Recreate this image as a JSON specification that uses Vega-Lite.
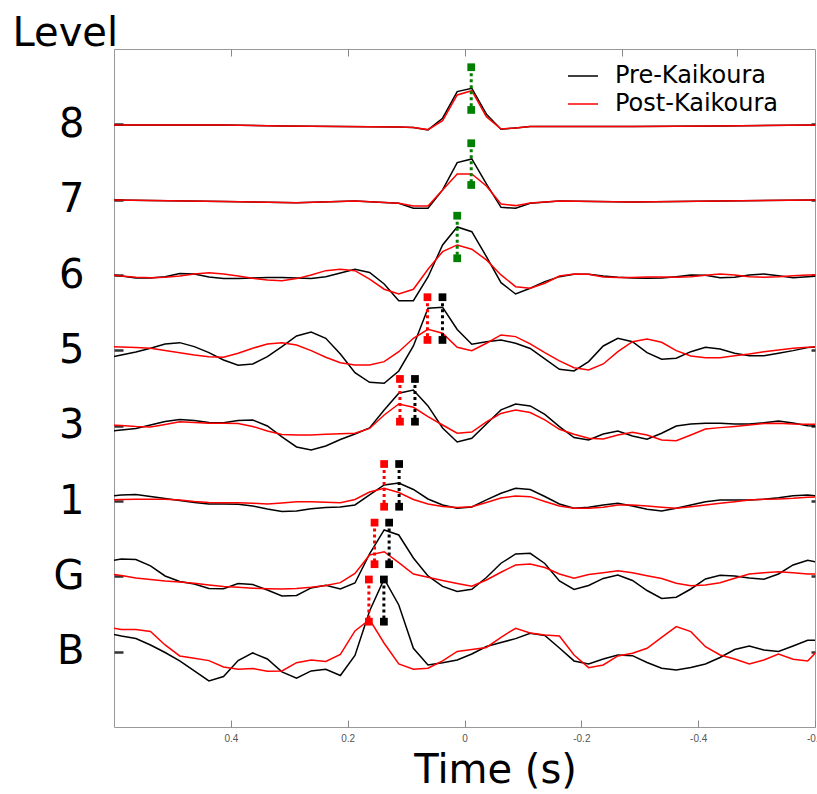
{
"$schema":"https://vega.github.io/schema/vega-lite/v6.json",
"width":701,"height":678,
"autosize":{"type":"none"},
"padding":{"left":114,"top":49,"right":2,"bottom":67},
"background":"white",
"config":{"view":{"stroke":"#999","strokeWidth":1},"font":"DejaVu Sans"},
"datasets":{
"pre":[
{"lv":"8","t":0.6125,"v":6.992},{"lv":"8","t":0.4125,"v":6.992},{"lv":"8","t":0.3125,"v":6.979},{"lv":"8","t":0.2125,"v":6.972},{"lv":"8","t":0.1125,"v":6.965},{"lv":"8","t":0.0875,"v":6.959},{"lv":"8","t":0.0625,"v":6.926},{"lv":"8","t":0.0375,"v":7.081},{"lv":"8","t":0.0125,"v":7.434},{"lv":"8","t":-0.0125,"v":7.479},{"lv":"8","t":-0.0375,"v":7.134},{"lv":"8","t":-0.0625,"v":6.935},{"lv":"8","t":-0.0875,"v":6.952},{"lv":"8","t":-0.1125,"v":6.972},{"lv":"8","t":-0.2875,"v":6.970},{"lv":"8","t":-0.4375,"v":6.979},{"lv":"8","t":-0.6125,"v":6.992},
{"lv":"7","t":0.6125,"v":5.996},{"lv":"7","t":0.4125,"v":5.976},{"lv":"7","t":0.2875,"v":5.960},{"lv":"7","t":0.1875,"v":5.983},{"lv":"7","t":0.1125,"v":5.953},{"lv":"7","t":0.0875,"v":5.886},{"lv":"7","t":0.0625,"v":5.886},{"lv":"7","t":0.0375,"v":6.129},{"lv":"7","t":0.0125,"v":6.492},{"lv":"7","t":-0.0125,"v":6.541},{"lv":"7","t":-0.0375,"v":6.209},{"lv":"7","t":-0.0625,"v":5.899},{"lv":"7","t":-0.0875,"v":5.886},{"lv":"7","t":-0.1125,"v":5.953},{"lv":"7","t":-0.1625,"v":5.983},{"lv":"7","t":-0.2875,"v":5.970},{"lv":"7","t":-0.4375,"v":5.983},{"lv":"7","t":-0.6125,"v":5.996},
{"lv":"6","t":0.6125,"v":5.007},{"lv":"6","t":0.5875,"v":4.987},{"lv":"6","t":0.5625,"v":4.961},{"lv":"6","t":0.5375,"v":4.961},{"lv":"6","t":0.5125,"v":4.978},{"lv":"6","t":0.4875,"v":5.021},{"lv":"6","t":0.4625,"v":5.014},{"lv":"6","t":0.4375,"v":4.974},{"lv":"6","t":0.4125,"v":4.954},{"lv":"6","t":0.3875,"v":4.954},{"lv":"6","t":0.3625,"v":4.961},{"lv":"6","t":0.3375,"v":4.967},{"lv":"6","t":0.3125,"v":4.967},{"lv":"6","t":0.2875,"v":4.961},{"lv":"6","t":0.2625,"v":4.954},{"lv":"6","t":0.2375,"v":4.978},{"lv":"6","t":0.2125,"v":5.027},{"lv":"6","t":0.1875,"v":5.076},{"lv":"6","t":0.1625,"v":5.034},{"lv":"6","t":0.1375,"v":4.881},{"lv":"6","t":0.1125,"v":4.659},{"lv":"6","t":0.0875,"v":4.659},{"lv":"6","t":0.0625,"v":4.974},{"lv":"6","t":0.0375,"v":5.399},{"lv":"6","t":0.0125,"v":5.638},{"lv":"6","t":-0.0125,"v":5.575},{"lv":"6","t":-0.0375,"v":5.244},{"lv":"6","t":-0.0625,"v":4.898},{"lv":"6","t":-0.0875,"v":4.748},{"lv":"6","t":-0.1125,"v":4.824},{"lv":"6","t":-0.1375,"v":4.912},{"lv":"6","t":-0.1625,"v":4.978},{"lv":"6","t":-0.1875,"v":5.010},{"lv":"6","t":-0.2125,"v":5.010},{"lv":"6","t":-0.2375,"v":4.987},{"lv":"6","t":-0.2625,"v":4.970},{"lv":"6","t":-0.2875,"v":4.961},{"lv":"6","t":-0.3125,"v":4.957},{"lv":"6","t":-0.3375,"v":4.961},{"lv":"6","t":-0.3625,"v":4.978},{"lv":"6","t":-0.3875,"v":5.001},{"lv":"6","t":-0.4125,"v":4.997},{"lv":"6","t":-0.4375,"v":4.965},{"lv":"6","t":-0.4625,"v":4.970},{"lv":"6","t":-0.4875,"v":5.001},{"lv":"6","t":-0.5125,"v":5.014},{"lv":"6","t":-0.5375,"v":4.991},{"lv":"6","t":-0.5625,"v":4.965},{"lv":"6","t":-0.5875,"v":4.978},{"lv":"6","t":-0.6125,"v":4.991},
{"lv":"5","t":0.6125,"v":3.899},{"lv":"5","t":0.5875,"v":3.939},{"lv":"5","t":0.5625,"v":3.978},{"lv":"5","t":0.5375,"v":4.028},{"lv":"5","t":0.5125,"v":4.085},{"lv":"5","t":0.4875,"v":4.102},{"lv":"5","t":0.4625,"v":4.049},{"lv":"5","t":0.4375,"v":3.969},{"lv":"5","t":0.4125,"v":3.872},{"lv":"5","t":0.3875,"v":3.802},{"lv":"5","t":0.3625,"v":3.819},{"lv":"5","t":0.3375,"v":3.916},{"lv":"5","t":0.3125,"v":4.049},{"lv":"5","t":0.2875,"v":4.191},{"lv":"5","t":0.2625,"v":4.244},{"lv":"5","t":0.2375,"v":4.160},{"lv":"5","t":0.2125,"v":3.952},{"lv":"5","t":0.1875,"v":3.704},{"lv":"5","t":0.1625,"v":3.576},{"lv":"5","t":0.1375,"v":3.563},{"lv":"5","t":0.1125,"v":3.726},{"lv":"5","t":0.0875,"v":4.058},{"lv":"5","t":0.0625,"v":4.559},{"lv":"5","t":0.0375,"v":4.572},{"lv":"5","t":0.0125,"v":4.277},{"lv":"5","t":-0.0125,"v":4.082},{"lv":"5","t":-0.0375,"v":4.115},{"lv":"5","t":-0.0625,"v":4.138},{"lv":"5","t":-0.0875,"v":4.094},{"lv":"5","t":-0.1125,"v":4.025},{"lv":"5","t":-0.1375,"v":3.886},{"lv":"5","t":-0.1625,"v":3.749},{"lv":"5","t":-0.1875,"v":3.726},{"lv":"5","t":-0.2125,"v":3.850},{"lv":"5","t":-0.2375,"v":4.058},{"lv":"5","t":-0.2625,"v":4.160},{"lv":"5","t":-0.2875,"v":4.115},{"lv":"5","t":-0.3125,"v":3.969},{"lv":"5","t":-0.3375,"v":3.882},{"lv":"5","t":-0.3625,"v":3.895},{"lv":"5","t":-0.3875,"v":3.982},{"lv":"5","t":-0.4125,"v":4.041},{"lv":"5","t":-0.4375,"v":4.018},{"lv":"5","t":-0.4625,"v":3.961},{"lv":"5","t":-0.4875,"v":3.929},{"lv":"5","t":-0.5125,"v":3.929},{"lv":"5","t":-0.5375,"v":3.961},{"lv":"5","t":-0.5625,"v":3.996},{"lv":"5","t":-0.5875,"v":4.036},{"lv":"5","t":-0.6125,"v":4.052},
{"lv":"3","t":0.6125,"v":2.923},{"lv":"3","t":0.5875,"v":2.943},{"lv":"3","t":0.5625,"v":2.963},{"lv":"3","t":0.5375,"v":3.009},{"lv":"3","t":0.5125,"v":3.056},{"lv":"3","t":0.4875,"v":3.082},{"lv":"3","t":0.4625,"v":3.069},{"lv":"3","t":0.4375,"v":3.043},{"lv":"3","t":0.4125,"v":3.040},{"lv":"3","t":0.3875,"v":3.069},{"lv":"3","t":0.3625,"v":3.076},{"lv":"3","t":0.3375,"v":2.996},{"lv":"3","t":0.3125,"v":2.850},{"lv":"3","t":0.2875,"v":2.717},{"lv":"3","t":0.2625,"v":2.678},{"lv":"3","t":0.2375,"v":2.731},{"lv":"3","t":0.2125,"v":2.817},{"lv":"3","t":0.1875,"v":2.890},{"lv":"3","t":0.1625,"v":2.970},{"lv":"3","t":0.1375,"v":3.209},{"lv":"3","t":0.1125,"v":3.430},{"lv":"3","t":0.0875,"v":3.474},{"lv":"3","t":0.0625,"v":3.262},{"lv":"3","t":0.0375,"v":2.970},{"lv":"3","t":0.0125,"v":2.784},{"lv":"3","t":-0.0125,"v":2.833},{"lv":"3","t":-0.0375,"v":3.023},{"lv":"3","t":-0.0625,"v":3.209},{"lv":"3","t":-0.0875,"v":3.288},{"lv":"3","t":-0.1125,"v":3.262},{"lv":"3","t":-0.1375,"v":3.149},{"lv":"3","t":-0.1625,"v":2.987},{"lv":"3","t":-0.1875,"v":2.843},{"lv":"3","t":-0.2125,"v":2.810},{"lv":"3","t":-0.2375,"v":2.890},{"lv":"3","t":-0.2625,"v":2.930},{"lv":"3","t":-0.2875,"v":2.863},{"lv":"3","t":-0.3125,"v":2.820},{"lv":"3","t":-0.3375,"v":2.899},{"lv":"3","t":-0.3625,"v":2.996},{"lv":"3","t":-0.3875,"v":3.023},{"lv":"3","t":-0.4125,"v":3.032},{"lv":"3","t":-0.4375,"v":3.032},{"lv":"3","t":-0.4625,"v":3.023},{"lv":"3","t":-0.4875,"v":3.023},{"lv":"3","t":-0.5125,"v":3.040},{"lv":"3","t":-0.5375,"v":3.063},{"lv":"3","t":-0.5625,"v":3.036},{"lv":"3","t":-0.5875,"v":3.000},{"lv":"3","t":-0.6125,"v":2.990},
{"lv":"1","t":0.6125,"v":2.060},{"lv":"1","t":0.5875,"v":2.080},{"lv":"1","t":0.5625,"v":2.087},{"lv":"1","t":0.5375,"v":2.060},{"lv":"1","t":0.5125,"v":2.034},{"lv":"1","t":0.4875,"v":2.007},{"lv":"1","t":0.4625,"v":1.981},{"lv":"1","t":0.4375,"v":1.961},{"lv":"1","t":0.4125,"v":1.961},{"lv":"1","t":0.3875,"v":1.957},{"lv":"1","t":0.3625,"v":1.934},{"lv":"1","t":0.3375,"v":1.894},{"lv":"1","t":0.3125,"v":1.861},{"lv":"1","t":0.2875,"v":1.868},{"lv":"1","t":0.2625,"v":1.898},{"lv":"1","t":0.2375,"v":1.914},{"lv":"1","t":0.2125,"v":1.921},{"lv":"1","t":0.1875,"v":1.947},{"lv":"1","t":0.1625,"v":2.080},{"lv":"1","t":0.1375,"v":2.213},{"lv":"1","t":0.1125,"v":2.239},{"lv":"1","t":0.0875,"v":2.153},{"lv":"1","t":0.0625,"v":2.027},{"lv":"1","t":0.0375,"v":1.947},{"lv":"1","t":0.0125,"v":1.904},{"lv":"1","t":-0.0125,"v":1.921},{"lv":"1","t":-0.0375,"v":2.014},{"lv":"1","t":-0.0625,"v":2.103},{"lv":"1","t":-0.0875,"v":2.169},{"lv":"1","t":-0.1125,"v":2.153},{"lv":"1","t":-0.1375,"v":2.060},{"lv":"1","t":-0.1625,"v":1.961},{"lv":"1","t":-0.1875,"v":1.904},{"lv":"1","t":-0.2125,"v":1.917},{"lv":"1","t":-0.2375,"v":1.947},{"lv":"1","t":-0.2625,"v":1.970},{"lv":"1","t":-0.2875,"v":1.934},{"lv":"1","t":-0.3125,"v":1.890},{"lv":"1","t":-0.3375,"v":1.868},{"lv":"1","t":-0.3625,"v":1.904},{"lv":"1","t":-0.3875,"v":1.947},{"lv":"1","t":-0.4125,"v":1.991},{"lv":"1","t":-0.4375,"v":2.014},{"lv":"1","t":-0.4625,"v":2.014},{"lv":"1","t":-0.4875,"v":2.014},{"lv":"1","t":-0.5125,"v":2.023},{"lv":"1","t":-0.5375,"v":2.044},{"lv":"1","t":-0.5625,"v":2.071},{"lv":"1","t":-0.5875,"v":2.080},{"lv":"1","t":-0.6125,"v":2.060},
{"lv":"G","t":0.6125,"v":1.197},{"lv":"G","t":0.5875,"v":1.231},{"lv":"G","t":0.5625,"v":1.224},{"lv":"G","t":0.5375,"v":1.138},{"lv":"G","t":0.5125,"v":1.005},{"lv":"G","t":0.4875,"v":0.932},{"lv":"G","t":0.4625,"v":0.899},{"lv":"G","t":0.4375,"v":0.839},{"lv":"G","t":0.4125,"v":0.836},{"lv":"G","t":0.3875,"v":0.905},{"lv":"G","t":0.3625,"v":0.892},{"lv":"G","t":0.3375,"v":0.819},{"lv":"G","t":0.3125,"v":0.739},{"lv":"G","t":0.2875,"v":0.746},{"lv":"G","t":0.2625,"v":0.846},{"lv":"G","t":0.2375,"v":0.881},{"lv":"G","t":0.2125,"v":0.832},{"lv":"G","t":0.1875,"v":0.912},{"lv":"G","t":0.1625,"v":1.297},{"lv":"G","t":0.1375,"v":1.616},{"lv":"G","t":0.1125,"v":1.549},{"lv":"G","t":0.0875,"v":1.244},{"lv":"G","t":0.0625,"v":1.005},{"lv":"G","t":0.0375,"v":0.866},{"lv":"G","t":0.0125,"v":0.799},{"lv":"G","t":-0.0125,"v":0.828},{"lv":"G","t":-0.0375,"v":0.985},{"lv":"G","t":-0.0625,"v":1.174},{"lv":"G","t":-0.0875,"v":1.297},{"lv":"G","t":-0.1125,"v":1.306},{"lv":"G","t":-0.1375,"v":1.171},{"lv":"G","t":-0.1625,"v":0.939},{"lv":"G","t":-0.1875,"v":0.826},{"lv":"G","t":-0.2125,"v":0.879},{"lv":"G","t":-0.2375,"v":0.972},{"lv":"G","t":-0.2625,"v":1.018},{"lv":"G","t":-0.2875,"v":0.945},{"lv":"G","t":-0.3125,"v":0.812},{"lv":"G","t":-0.3375,"v":0.706},{"lv":"G","t":-0.3625,"v":0.722},{"lv":"G","t":-0.3875,"v":0.832},{"lv":"G","t":-0.4125,"v":0.965},{"lv":"G","t":-0.4375,"v":1.014},{"lv":"G","t":-0.4625,"v":1.005},{"lv":"G","t":-0.4875,"v":0.978},{"lv":"G","t":-0.5125,"v":0.961},{"lv":"G","t":-0.5375,"v":1.031},{"lv":"G","t":-0.5625,"v":1.151},{"lv":"G","t":-0.5875,"v":1.213},{"lv":"G","t":-0.6125,"v":1.177},
{"lv":"B","t":0.6125,"v":0.248},{"lv":"B","t":0.5875,"v":0.208},{"lv":"B","t":0.5625,"v":0.175},{"lv":"B","t":0.5375,"v":0.089},{"lv":"B","t":0.5125,"v":-0.011},{"lv":"B","t":0.4875,"v":-0.123},{"lv":"B","t":0.4625,"v":-0.256},{"lv":"B","t":0.4375,"v":-0.389},{"lv":"B","t":0.4125,"v":-0.330},{"lv":"B","t":0.3875,"v":-0.117},{"lv":"B","t":0.3625,"v":-0.017},{"lv":"B","t":0.3375,"v":-0.097},{"lv":"B","t":0.3125,"v":-0.269},{"lv":"B","t":0.2875,"v":-0.353},{"lv":"B","t":0.2625,"v":-0.256},{"lv":"B","t":0.2375,"v":-0.234},{"lv":"B","t":0.2125,"v":-0.316},{"lv":"B","t":0.1875,"v":-0.050},{"lv":"B","t":0.1625,"v":0.540},{"lv":"B","t":0.1375,"v":0.965},{"lv":"B","t":0.1125,"v":0.620},{"lv":"B","t":0.0875,"v":0.045},{"lv":"B","t":0.0625,"v":-0.177},{"lv":"B","t":0.0375,"v":-0.146},{"lv":"B","t":0.0125,"v":-0.110},{"lv":"B","t":-0.0125,"v":-0.031},{"lv":"B","t":-0.0375,"v":0.069},{"lv":"B","t":-0.0625,"v":0.122},{"lv":"B","t":-0.0875,"v":0.173},{"lv":"B","t":-0.1125,"v":0.244},{"lv":"B","t":-0.1375,"v":0.215},{"lv":"B","t":-0.1625,"v":0.049},{"lv":"B","t":-0.1875,"v":-0.123},{"lv":"B","t":-0.2125,"v":-0.163},{"lv":"B","t":-0.2375,"v":-0.097},{"lv":"B","t":-0.2625,"v":-0.044},{"lv":"B","t":-0.2875,"v":-0.053},{"lv":"B","t":-0.3125,"v":-0.143},{"lv":"B","t":-0.3375,"v":-0.220},{"lv":"B","t":-0.3625,"v":-0.243},{"lv":"B","t":-0.3875,"v":-0.210},{"lv":"B","t":-0.4125,"v":-0.163},{"lv":"B","t":-0.4375,"v":-0.077},{"lv":"B","t":-0.4625,"v":0.029},{"lv":"B","t":-0.4875,"v":0.076},{"lv":"B","t":-0.5125,"v":0.023},{"lv":"B","t":-0.5375,"v":0.003},{"lv":"B","t":-0.5625,"v":0.076},{"lv":"B","t":-0.5875,"v":0.151},{"lv":"B","t":-0.6125,"v":0.155}
],
"post":[
{"lv":"8","t":0.6125,"v":6.992},{"lv":"8","t":0.4125,"v":6.992},{"lv":"8","t":0.3125,"v":6.979},{"lv":"8","t":0.2125,"v":6.972},{"lv":"8","t":0.1125,"v":6.965},{"lv":"8","t":0.0875,"v":6.959},{"lv":"8","t":0.0625,"v":6.930},{"lv":"8","t":0.0375,"v":7.049},{"lv":"8","t":0.0125,"v":7.390},{"lv":"8","t":-0.0125,"v":7.447},{"lv":"8","t":-0.0375,"v":7.102},{"lv":"8","t":-0.0625,"v":6.938},{"lv":"8","t":-0.0875,"v":6.952},{"lv":"8","t":-0.1125,"v":6.972},{"lv":"8","t":-0.2875,"v":6.970},{"lv":"8","t":-0.4375,"v":6.979},{"lv":"8","t":-0.6125,"v":6.992},
{"lv":"7","t":0.6125,"v":5.996},{"lv":"7","t":0.4125,"v":5.976},{"lv":"7","t":0.2875,"v":5.960},{"lv":"7","t":0.1875,"v":5.983},{"lv":"7","t":0.1125,"v":5.953},{"lv":"7","t":0.0875,"v":5.917},{"lv":"7","t":0.0625,"v":5.917},{"lv":"7","t":0.0375,"v":6.129},{"lv":"7","t":0.0125,"v":6.341},{"lv":"7","t":-0.0125,"v":6.341},{"lv":"7","t":-0.0375,"v":6.182},{"lv":"7","t":-0.0625,"v":5.943},{"lv":"7","t":-0.0875,"v":5.921},{"lv":"7","t":-0.1125,"v":5.957},{"lv":"7","t":-0.1625,"v":5.983},{"lv":"7","t":-0.2875,"v":5.970},{"lv":"7","t":-0.4375,"v":5.983},{"lv":"7","t":-0.6125,"v":5.996},
{"lv":"6","t":0.6125,"v":5.007},{"lv":"6","t":0.5875,"v":4.987},{"lv":"6","t":0.5625,"v":4.970},{"lv":"6","t":0.5375,"v":4.965},{"lv":"6","t":0.5125,"v":4.970},{"lv":"6","t":0.4875,"v":4.987},{"lv":"6","t":0.4625,"v":5.014},{"lv":"6","t":0.4375,"v":5.031},{"lv":"6","t":0.4125,"v":5.014},{"lv":"6","t":0.3875,"v":4.987},{"lv":"6","t":0.3625,"v":4.957},{"lv":"6","t":0.3375,"v":4.934},{"lv":"6","t":0.3125,"v":4.925},{"lv":"6","t":0.2875,"v":4.952},{"lv":"6","t":0.2625,"v":5.001},{"lv":"6","t":0.2375,"v":5.058},{"lv":"6","t":0.2125,"v":5.076},{"lv":"6","t":0.1875,"v":5.058},{"lv":"6","t":0.1625,"v":4.944},{"lv":"6","t":0.1375,"v":4.811},{"lv":"6","t":0.1125,"v":4.748},{"lv":"6","t":0.0875,"v":4.811},{"lv":"6","t":0.0625,"v":5.076},{"lv":"6","t":0.0375,"v":5.310},{"lv":"6","t":0.0125,"v":5.399},{"lv":"6","t":-0.0125,"v":5.342},{"lv":"6","t":-0.0375,"v":5.200},{"lv":"6","t":-0.0625,"v":5.001},{"lv":"6","t":-0.0875,"v":4.845},{"lv":"6","t":-0.1125,"v":4.824},{"lv":"6","t":-0.1375,"v":4.890},{"lv":"6","t":-0.1625,"v":4.987},{"lv":"6","t":-0.1875,"v":5.014},{"lv":"6","t":-0.2125,"v":5.010},{"lv":"6","t":-0.2375,"v":4.974},{"lv":"6","t":-0.2625,"v":4.967},{"lv":"6","t":-0.2875,"v":4.967},{"lv":"6","t":-0.3125,"v":4.974},{"lv":"6","t":-0.3375,"v":4.974},{"lv":"6","t":-0.3625,"v":4.970},{"lv":"6","t":-0.3875,"v":4.978},{"lv":"6","t":-0.4125,"v":4.997},{"lv":"6","t":-0.4375,"v":5.014},{"lv":"6","t":-0.4625,"v":5.001},{"lv":"6","t":-0.4875,"v":4.978},{"lv":"6","t":-0.5125,"v":4.970},{"lv":"6","t":-0.5375,"v":4.978},{"lv":"6","t":-0.5625,"v":4.991},{"lv":"6","t":-0.5875,"v":5.001},{"lv":"6","t":-0.6125,"v":5.001},
{"lv":"5","t":0.6125,"v":4.052},{"lv":"5","t":0.5875,"v":4.045},{"lv":"5","t":0.5625,"v":4.038},{"lv":"5","t":0.5375,"v":4.028},{"lv":"5","t":0.5125,"v":3.998},{"lv":"5","t":0.4875,"v":3.969},{"lv":"5","t":0.4625,"v":3.939},{"lv":"5","t":0.4375,"v":3.916},{"lv":"5","t":0.4125,"v":3.908},{"lv":"5","t":0.3875,"v":3.961},{"lv":"5","t":0.3625,"v":4.028},{"lv":"5","t":0.3375,"v":4.085},{"lv":"5","t":0.3125,"v":4.102},{"lv":"5","t":0.2875,"v":4.071},{"lv":"5","t":0.2625,"v":3.996},{"lv":"5","t":0.2375,"v":3.908},{"lv":"5","t":0.2125,"v":3.836},{"lv":"5","t":0.1875,"v":3.806},{"lv":"5","t":0.1625,"v":3.806},{"lv":"5","t":0.1375,"v":3.850},{"lv":"5","t":0.1125,"v":3.982},{"lv":"5","t":0.0875,"v":4.160},{"lv":"5","t":0.0625,"v":4.280},{"lv":"5","t":0.0375,"v":4.227},{"lv":"5","t":0.0125,"v":4.041},{"lv":"5","t":-0.0125,"v":3.996},{"lv":"5","t":-0.0375,"v":4.094},{"lv":"5","t":-0.0625,"v":4.204},{"lv":"5","t":-0.0875,"v":4.182},{"lv":"5","t":-0.1125,"v":4.085},{"lv":"5","t":-0.1375,"v":3.969},{"lv":"5","t":-0.1625,"v":3.859},{"lv":"5","t":-0.1875,"v":3.770},{"lv":"5","t":-0.2125,"v":3.740},{"lv":"5","t":-0.2375,"v":3.819},{"lv":"5","t":-0.2625,"v":3.982},{"lv":"5","t":-0.2875,"v":4.115},{"lv":"5","t":-0.3125,"v":4.151},{"lv":"5","t":-0.3375,"v":4.107},{"lv":"5","t":-0.3625,"v":3.996},{"lv":"5","t":-0.3875,"v":3.925},{"lv":"5","t":-0.4125,"v":3.903},{"lv":"5","t":-0.4375,"v":3.903},{"lv":"5","t":-0.4625,"v":3.929},{"lv":"5","t":-0.4875,"v":3.952},{"lv":"5","t":-0.5125,"v":3.982},{"lv":"5","t":-0.5375,"v":4.005},{"lv":"5","t":-0.5625,"v":4.028},{"lv":"5","t":-0.5875,"v":4.041},{"lv":"5","t":-0.6125,"v":4.052},
{"lv":"3","t":0.6125,"v":3.009},{"lv":"3","t":0.5875,"v":3.003},{"lv":"3","t":0.5625,"v":2.990},{"lv":"3","t":0.5375,"v":2.983},{"lv":"3","t":0.5125,"v":3.016},{"lv":"3","t":0.4875,"v":3.053},{"lv":"3","t":0.4625,"v":3.043},{"lv":"3","t":0.4375,"v":3.032},{"lv":"3","t":0.4125,"v":3.032},{"lv":"3","t":0.3875,"v":3.029},{"lv":"3","t":0.3625,"v":2.990},{"lv":"3","t":0.3375,"v":2.930},{"lv":"3","t":0.3125,"v":2.883},{"lv":"3","t":0.2875,"v":2.877},{"lv":"3","t":0.2625,"v":2.877},{"lv":"3","t":0.2375,"v":2.886},{"lv":"3","t":0.2125,"v":2.893},{"lv":"3","t":0.1875,"v":2.899},{"lv":"3","t":0.1625,"v":2.963},{"lv":"3","t":0.1375,"v":3.142},{"lv":"3","t":0.1125,"v":3.288},{"lv":"3","t":0.0875,"v":3.244},{"lv":"3","t":0.0625,"v":3.120},{"lv":"3","t":0.0375,"v":3.009},{"lv":"3","t":0.0125,"v":2.899},{"lv":"3","t":-0.0125,"v":2.916},{"lv":"3","t":-0.0375,"v":3.049},{"lv":"3","t":-0.0625,"v":3.162},{"lv":"3","t":-0.0875,"v":3.209},{"lv":"3","t":-0.1125,"v":3.175},{"lv":"3","t":-0.1375,"v":3.076},{"lv":"3","t":-0.1625,"v":2.952},{"lv":"3","t":-0.1875,"v":2.886},{"lv":"3","t":-0.2125,"v":2.833},{"lv":"3","t":-0.2375,"v":2.824},{"lv":"3","t":-0.2625,"v":2.877},{"lv":"3","t":-0.2875,"v":2.913},{"lv":"3","t":-0.3125,"v":2.877},{"lv":"3","t":-0.3375,"v":2.810},{"lv":"3","t":-0.3625,"v":2.801},{"lv":"3","t":-0.3875,"v":2.877},{"lv":"3","t":-0.4125,"v":2.956},{"lv":"3","t":-0.4375,"v":2.974},{"lv":"3","t":-0.4625,"v":2.990},{"lv":"3","t":-0.4875,"v":3.009},{"lv":"3","t":-0.5125,"v":3.029},{"lv":"3","t":-0.5375,"v":3.032},{"lv":"3","t":-0.5625,"v":3.023},{"lv":"3","t":-0.5875,"v":3.019},{"lv":"3","t":-0.6125,"v":3.019},
{"lv":"1","t":0.6125,"v":2.014},{"lv":"1","t":0.5875,"v":2.020},{"lv":"1","t":0.5625,"v":2.023},{"lv":"1","t":0.5375,"v":2.023},{"lv":"1","t":0.5125,"v":2.023},{"lv":"1","t":0.4875,"v":2.014},{"lv":"1","t":0.4625,"v":1.994},{"lv":"1","t":0.4375,"v":1.981},{"lv":"1","t":0.4125,"v":1.978},{"lv":"1","t":0.3875,"v":1.978},{"lv":"1","t":0.3625,"v":1.970},{"lv":"1","t":0.3375,"v":1.961},{"lv":"1","t":0.3125,"v":1.974},{"lv":"1","t":0.2875,"v":1.991},{"lv":"1","t":0.2625,"v":1.991},{"lv":"1","t":0.2375,"v":1.983},{"lv":"1","t":0.2125,"v":1.978},{"lv":"1","t":0.1875,"v":2.020},{"lv":"1","t":0.1625,"v":2.120},{"lv":"1","t":0.1375,"v":2.169},{"lv":"1","t":0.1125,"v":2.113},{"lv":"1","t":0.0875,"v":2.020},{"lv":"1","t":0.0625,"v":1.961},{"lv":"1","t":0.0375,"v":1.928},{"lv":"1","t":0.0125,"v":1.914},{"lv":"1","t":-0.0125,"v":1.925},{"lv":"1","t":-0.0375,"v":1.981},{"lv":"1","t":-0.0625,"v":2.040},{"lv":"1","t":-0.0875,"v":2.067},{"lv":"1","t":-0.1125,"v":2.058},{"lv":"1","t":-0.1375,"v":1.994},{"lv":"1","t":-0.1625,"v":1.934},{"lv":"1","t":-0.1875,"v":1.904},{"lv":"1","t":-0.2125,"v":1.904},{"lv":"1","t":-0.2375,"v":1.917},{"lv":"1","t":-0.2625,"v":1.947},{"lv":"1","t":-0.2875,"v":1.947},{"lv":"1","t":-0.3125,"v":1.934},{"lv":"1","t":-0.3375,"v":1.917},{"lv":"1","t":-0.3625,"v":1.904},{"lv":"1","t":-0.3875,"v":1.925},{"lv":"1","t":-0.4125,"v":1.947},{"lv":"1","t":-0.4375,"v":1.970},{"lv":"1","t":-0.4625,"v":1.991},{"lv":"1","t":-0.4875,"v":2.014},{"lv":"1","t":-0.5125,"v":2.023},{"lv":"1","t":-0.5375,"v":2.027},{"lv":"1","t":-0.5625,"v":2.036},{"lv":"1","t":-0.5875,"v":2.050},{"lv":"1","t":-0.6125,"v":2.058},
{"lv":"G","t":0.6125,"v":1.038},{"lv":"G","t":0.5875,"v":1.012},{"lv":"G","t":0.5625,"v":0.978},{"lv":"G","t":0.5375,"v":0.958},{"lv":"G","t":0.5125,"v":0.939},{"lv":"G","t":0.4875,"v":0.925},{"lv":"G","t":0.4625,"v":0.908},{"lv":"G","t":0.4375,"v":0.885},{"lv":"G","t":0.4125,"v":0.866},{"lv":"G","t":0.3875,"v":0.855},{"lv":"G","t":0.3625,"v":0.842},{"lv":"G","t":0.3375,"v":0.836},{"lv":"G","t":0.3125,"v":0.832},{"lv":"G","t":0.2875,"v":0.839},{"lv":"G","t":0.2625,"v":0.855},{"lv":"G","t":0.2375,"v":0.879},{"lv":"G","t":0.2125,"v":0.916},{"lv":"G","t":0.1875,"v":1.038},{"lv":"G","t":0.1625,"v":1.284},{"lv":"G","t":0.1375,"v":1.327},{"lv":"G","t":0.1125,"v":1.181},{"lv":"G","t":0.0875,"v":1.031},{"lv":"G","t":0.0625,"v":0.988},{"lv":"G","t":0.0375,"v":0.945},{"lv":"G","t":0.0125,"v":0.905},{"lv":"G","t":-0.0125,"v":0.868},{"lv":"G","t":-0.0375,"v":0.952},{"lv":"G","t":-0.0625,"v":1.054},{"lv":"G","t":-0.0875,"v":1.151},{"lv":"G","t":-0.1125,"v":1.164},{"lv":"G","t":-0.1375,"v":1.118},{"lv":"G","t":-0.1625,"v":1.031},{"lv":"G","t":-0.1875,"v":0.974},{"lv":"G","t":-0.2125,"v":1.025},{"lv":"G","t":-0.2375,"v":1.049},{"lv":"G","t":-0.2625,"v":1.075},{"lv":"G","t":-0.2875,"v":1.049},{"lv":"G","t":-0.3125,"v":1.009},{"lv":"G","t":-0.3375,"v":0.972},{"lv":"G","t":-0.3625,"v":0.908},{"lv":"G","t":-0.3875,"v":0.876},{"lv":"G","t":-0.4125,"v":0.885},{"lv":"G","t":-0.4375,"v":0.916},{"lv":"G","t":-0.4625,"v":0.974},{"lv":"G","t":-0.4875,"v":1.031},{"lv":"G","t":-0.5125,"v":1.049},{"lv":"G","t":-0.5375,"v":1.062},{"lv":"G","t":-0.5625,"v":1.049},{"lv":"G","t":-0.5875,"v":1.031},{"lv":"G","t":-0.6125,"v":1.031},
{"lv":"B","t":0.6125,"v":0.328},{"lv":"B","t":0.5875,"v":0.295},{"lv":"B","t":0.5625,"v":0.295},{"lv":"B","t":0.5375,"v":0.268},{"lv":"B","t":0.5125,"v":0.089},{"lv":"B","t":0.4875,"v":-0.057},{"lv":"B","t":0.4625,"v":-0.088},{"lv":"B","t":0.4375,"v":-0.119},{"lv":"B","t":0.4125,"v":-0.203},{"lv":"B","t":0.3875,"v":-0.234},{"lv":"B","t":0.3625,"v":-0.223},{"lv":"B","t":0.3375,"v":-0.260},{"lv":"B","t":0.3125,"v":-0.256},{"lv":"B","t":0.2875,"v":-0.146},{"lv":"B","t":0.2625,"v":-0.110},{"lv":"B","t":0.2375,"v":-0.130},{"lv":"B","t":0.2125,"v":-0.037},{"lv":"B","t":0.1875,"v":0.275},{"lv":"B","t":0.1625,"v":0.427},{"lv":"B","t":0.1375,"v":0.112},{"lv":"B","t":0.1125,"v":-0.163},{"lv":"B","t":0.0875,"v":-0.234},{"lv":"B","t":0.0625,"v":-0.220},{"lv":"B","t":0.0375,"v":-0.123},{"lv":"B","t":0.0125,"v":0.003},{"lv":"B","t":-0.0125,"v":0.029},{"lv":"B","t":-0.0375,"v":0.056},{"lv":"B","t":-0.0625,"v":0.191},{"lv":"B","t":-0.0875,"v":0.311},{"lv":"B","t":-0.1125,"v":0.248},{"lv":"B","t":-0.1375,"v":0.222},{"lv":"B","t":-0.1625,"v":0.208},{"lv":"B","t":-0.1875,"v":-0.044},{"lv":"B","t":-0.2125,"v":-0.212},{"lv":"B","t":-0.2375,"v":-0.177},{"lv":"B","t":-0.2625,"v":-0.057},{"lv":"B","t":-0.2875,"v":-0.021},{"lv":"B","t":-0.3125,"v":0.045},{"lv":"B","t":-0.3375,"v":0.191},{"lv":"B","t":-0.3625,"v":0.332},{"lv":"B","t":-0.3875,"v":0.266},{"lv":"B","t":-0.4125,"v":0.066},{"lv":"B","t":-0.4375,"v":-0.044},{"lv":"B","t":-0.4625,"v":-0.097},{"lv":"B","t":-0.4875,"v":-0.163},{"lv":"B","t":-0.5125,"v":-0.110},{"lv":"B","t":-0.5375,"v":-0.031},{"lv":"B","t":-0.5625,"v":-0.101},{"lv":"B","t":-0.5875,"v":-0.123},{"lv":"B","t":-0.6125,"v":0.076}
],
"marks":[
{"lv":"8","who":"Common","t":-0.0115,"top":7.758,"bot":7.191},
{"lv":"7","who":"Common","t":-0.0115,"top":6.749,"bot":6.195},
{"lv":"6","who":"Common","t":0.0125,"top":5.787,"bot":5.222},
{"lv":"5","who":"Post-Kaikoura","t":0.0634,"top":4.705,"bot":4.138},
{"lv":"5","who":"Pre-Kaikoura","t":0.0377,"top":4.705,"bot":4.138},
{"lv":"3","who":"Post-Kaikoura","t":0.1105,"top":3.620,"bot":3.053},
{"lv":"3","who":"Pre-Kaikoura","t":0.0848,"top":3.620,"bot":3.053},
{"lv":"1","who":"Post-Kaikoura","t":0.1376,"top":2.491,"bot":1.924},
{"lv":"1","who":"Pre-Kaikoura","t":0.1119,"top":2.491,"bot":1.924},
{"lv":"G","who":"Post-Kaikoura","t":0.154,"top":1.713,"bot":1.161},
{"lv":"G","who":"Pre-Kaikoura","t":0.129,"top":1.713,"bot":1.161},
{"lv":"B","who":"Post-Kaikoura","t":0.1637,"top":0.958,"bot":0.398},
{"lv":"B","who":"Pre-Kaikoura","t":0.138,"top":0.958,"bot":0.398}
]
},
"layer":[
{"data":{"name":"pre"},
 "mark":{"type":"line","clip":true,"strokeWidth":1.5},
 "encoding":{
  "x":{"field":"t","type":"quantitative","scale":{"domain":[-0.6,0.6],"reverse":true,"nice":false,"zero":false},
   "axis":{"values":[0.4,0.2,0,-0.2,-0.4,-0.6],"labelExpr":"toString(datum.value)","labelFont":"Liberation Sans","labelFontSize":10,"labelColor":"#555","tickSize":-7,"tickColor":"#888","tickWidth":1,"labelPadding":13,"domain":false,"grid":false,"labelFlush":false,"labelOverlap":false,"title":"Time (s)","titleFont":"DejaVu Sans","titleFontSize":40,"titleFontWeight":"normal","titleColor":"#000","titleX":381,"titleY":55,"titleBaseline":"alphabetic"}},
  "y":{"field":"v","type":"quantitative","scale":{"domain":[-1,8],"nice":false,"zero":false},
   "axis":{"values":[0,1,2,3,4,5,6,7],"labelExpr":"['B','G','1','3','5','6','7','8'][datum.value]","labelFont":"DejaVu Sans","labelFontSize":40,"labelColor":"#000","labelPadding":39,"tickSize":-9,"tickWidth":2.5,"tickColor":"#333","domain":false,"grid":false,"labelFlush":false,"labelOverlap":false,"title":"Level","titleAngle":0,"titleAlign":"left","titleBaseline":"alphabetic","titleX":-102,"titleY":-4,"titleFont":"DejaVu Sans","titleFontSize":40,"titleFontWeight":"normal","titleColor":"#000"}},
  "detail":{"field":"lv"},
  "color":{"datum":"Pre-Kaikoura","type":"nominal","scale":{"domain":["Pre-Kaikoura","Post-Kaikoura"],"range":["#000000","#ff0000"]},
   "legend":{"orient":"none","legendX":453,"legendY":11,"direction":"vertical","title":null,"symbolType":"stroke","symbolSize":900,"symbolStrokeWidth":1.5,"labelFontSize":24,"labelFont":"DejaVu Sans","labelColor":"#000","labelOffset":16,"labelLimit":0,"rowPadding":-4,"padding":0}}
 }},
{"data":{"name":"post"},
 "mark":{"type":"line","clip":true,"strokeWidth":1.5},
 "encoding":{
  "x":{"field":"t","type":"quantitative","axis":null},
  "y":{"field":"v","type":"quantitative","axis":null},
  "detail":{"field":"lv"},
  "color":{"datum":"Post-Kaikoura","type":"nominal"}
 }},
{"data":{"name":"marks"},
 "mark":{"type":"rule","strokeWidth":3,"strokeDash":[3,3]},
 "encoding":{
  "x":{"field":"t","type":"quantitative","axis":{"orient":"top","values":[0.4,0.2,0,-0.27,-0.466],"labels":false,"tickSize":-7,"tickColor":"#888","tickWidth":1,"domain":false,"grid":false,"title":null}},
  "y":{"field":"top","type":"quantitative","axis":{"orient":"right","values":[0,1,2,3,4,5,6,7],"labels":false,"tickSize":-4,"tickWidth":2.5,"tickColor":"#333","domain":false,"grid":false,"title":null}},
  "y2":{"field":"bot"},
  "stroke":{"field":"who","type":"nominal","scale":{"domain":["Pre-Kaikoura","Post-Kaikoura","Common"],"range":["#000000","#ff0000","#008000"]},"legend":null}
 }},
{"data":{"name":"marks"},
 "mark":{"type":"square","size":60,"opacity":1},
 "encoding":{
  "x":{"field":"t","type":"quantitative","axis":null},
  "y":{"field":"top","type":"quantitative","axis":null},
  "fill":{"field":"who","type":"nominal","scale":{"domain":["Pre-Kaikoura","Post-Kaikoura","Common"],"range":["#000000","#ff0000","#008000"]},"legend":null}
 }},
{"data":{"name":"marks"},
 "mark":{"type":"square","size":60,"opacity":1},
 "encoding":{
  "x":{"field":"t","type":"quantitative","axis":null},
  "y":{"field":"bot","type":"quantitative","axis":null},
  "fill":{"field":"who","type":"nominal","legend":null}
 }}
],
"resolve":{"axis":{"x":"independent","y":"independent"}}
}
